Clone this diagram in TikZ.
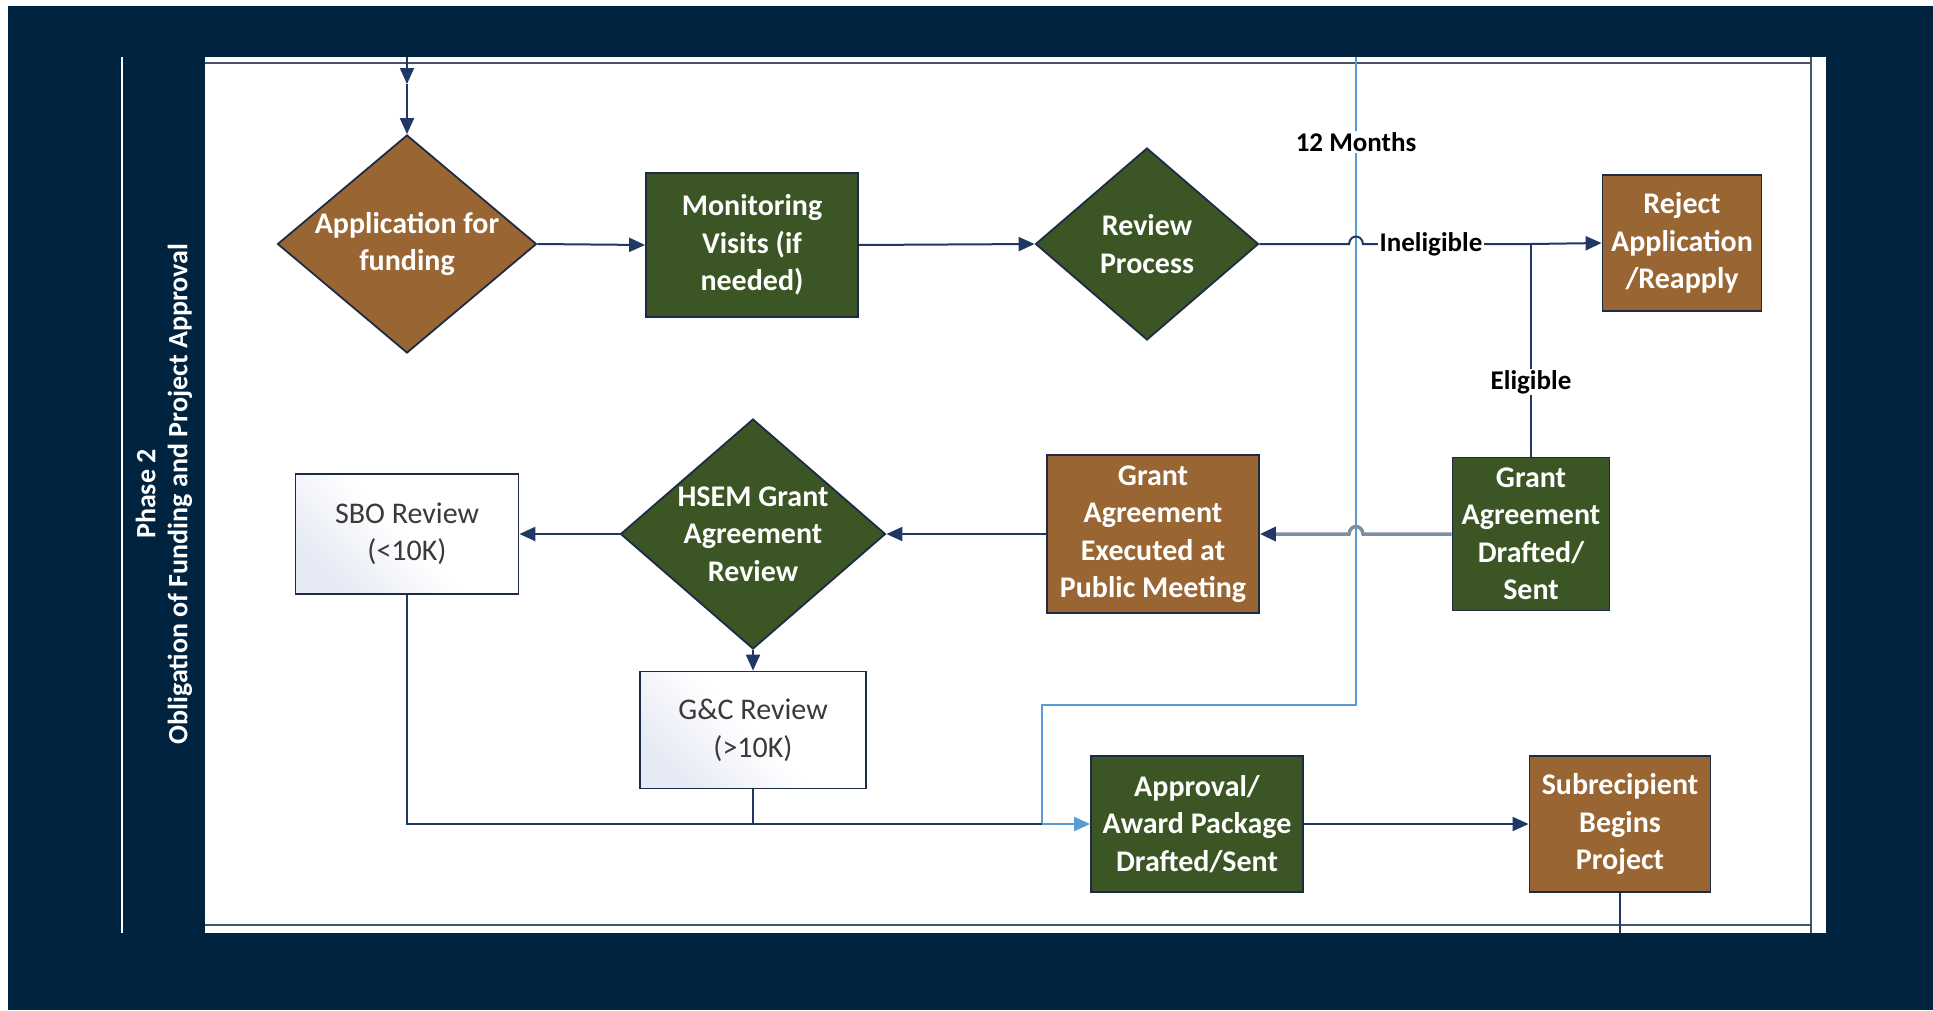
\documentclass[tikz,border=0pt]{standalone}
\usepackage{fontspec}
\setmainfont{Carlito}
\usetikzlibrary{shapes.geometric,arrows.meta,calc}
\definecolor{navybg}{HTML}{002340}
\definecolor{brownfill}{HTML}{996633}
\definecolor{greenfill}{HTML}{3B5524}
\definecolor{boxedge}{HTML}{1E2B45}
\definecolor{conn}{HTML}{1F3864}
\definecolor{lightblue}{HTML}{5B9BD5}
\definecolor{greyconn}{HTML}{7F8FA2}
\definecolor{laneline}{HTML}{44546A}
\definecolor{revtext}{HTML}{3A3A3A}
\definecolor{revshade}{HTML}{E6EAF4}
\begin{document}
\begin{tikzpicture}[x=1pt,y=-1pt,
  boxtext/.style={font=\fontsize{30}{37.5}\selectfont\bfseries, text=white, align=center},
  brownbox/.style={rectangle, draw=boxedge, line width=1.8pt, fill=brownfill, boxtext, inner sep=0pt},
  greenbox/.style={rectangle, draw=boxedge, line width=1.8pt, fill=greenfill, boxtext, inner sep=0pt},
  browndia/.style={diamond, draw=boxedge, line width=1.8pt, fill=brownfill, boxtext, inner sep=-40pt},
  greendia/.style={diamond, draw=boxedge, line width=1.8pt, fill=greenfill, boxtext, inner sep=-40pt},
  revbox/.style={rectangle, draw=boxedge, line width=1.8pt, top color=revshade, bottom color=white, middle color=white, shading angle=135, font=\fontsize{30}{37.5}\selectfont, text=revtext, align=center, inner sep=0pt},
  tip/.style={-{Triangle[length=16pt,width=14pt]}},
  flow/.style={draw=conn, line width=2pt, tip},
  plain/.style={draw=conn, line width=2pt},
  lbl/.style={font=\fontsize{27}{30}\selectfont\bfseries, text=black, fill=white, inner sep=1.5pt},
]
% background and page
\useasboundingbox (0,0) rectangle (1933,1010);
\fill[white] (0,0) rectangle (1933,1010);
\fill[navybg] (8,6) rectangle (1933,1010);
\fill[white] (205,57) rectangle (1826,933);
\draw[white, line width=2.5pt] (122,57) -- (122,933);
\draw[laneline, line width=2.5pt] (205,63) -- (1811,63);
\draw[laneline, line width=2.5pt] (205,925) -- (1811,925);
\draw[laneline, line width=2.5pt] (1811,57) -- (1811,933);
\node[rotate=90, font=\fontsize{28}{32}\selectfont\bfseries, text=white, align=center] (lane) at (164,494) {Phase 2\\Obligation of Funding and Project Approval};

% nodes
\node[browndia, minimum width=259pt, minimum height=218pt] (app) at (407,244) {Application for\\funding};
\node[greenbox, minimum width=212pt, minimum height=144pt] (mon) at (752,245) {Monitoring\\Visits (if\\needed)};
\node[greendia, minimum width=223pt, minimum height=192pt] (rev) at (1147,244) {Review\\Process};
\node[brownbox, minimum width=159pt, minimum height=136pt] (rej) at (1682,243) {Reject\\Application\\/Reapply};
\node[greenbox, minimum width=157pt, minimum height=153pt] (gad) at (1531,534) {Grant\\Agreement\\Drafted/\\Sent};
\node[brownbox, minimum width=212pt, minimum height=158pt] (gae) at (1153,534) {Grant\\Agreement\\Executed at\\Public Meeting};
\node[greendia, minimum width=265pt, minimum height=230pt] (hsem) at (753,534) {HSEM Grant\\Agreement\\Review};
\node[revbox, minimum width=223pt, minimum height=120pt] (sbo) at (407,534) {SBO Review\\(<10K)};
\node[revbox, minimum width=226pt, minimum height=117pt] (gc) at (753,730) {G\&C Review\\(>10K)};
\node[greenbox, minimum width=212pt, minimum height=136pt] (appr) at (1197,824) {Approval/\\Award Package\\Drafted/Sent};
\node[brownbox, minimum width=181pt, minimum height=136pt] (sub) at (1620,824) {Subrecipient\\Begins\\Project};

% coordinates
\coordinate (topin) at (407,57);
\coordinate (topmid) at (407,84);
\coordinate (bluetop) at (1356,57);
\coordinate (bluecorner) at (1356,705);
\coordinate (blueleft) at (1042,705);
\coordinate (bluel) at (1042,824);
\coordinate (jct) at (gad.north |- rev.east);
\coordinate (subbot) at (1620,933);

% light blue 12-month loop
\draw[lightblue, line width=2pt, tip] (bluetop) -- (bluecorner) -- (blueleft) -- (bluel) -- (appr.west);

% connectors
\draw[flow] (topin) -- (topmid);
\draw[flow] (topmid) -- (app.north);
\draw[flow] (app.east) -- (mon.west);
\draw[flow] (mon.east) -- (rev.west);
\draw[plain] (rev.east) -- (1349,244) .. controls (1350,234) and (1362,234) .. (1363,244) -- (jct);
\draw[flow] (jct) -- (rej.west);
\draw[plain] (gad.north) -- (jct);
\draw[greyconn, line width=3.5pt, -{Triangle[length=16pt,width=14pt,color=conn]}] (gad.west) -- (1363,534) .. controls (1362,524) and (1350,524) .. (1349,534) -- (gae.east);
\draw[flow] (gae.west) -- (hsem.east);
\draw[flow] (hsem.west) -- (sbo.east);
\draw[flow] (hsem.south) -- (gc.north);
\draw[plain] (sbo.south) |- (bluel);
\draw[plain] (gc.south) -- (gc.south |- bluel);
\draw[flow] (appr.east) -- (sub.west);
\draw[plain] (sub.south) -- (subbot);

% labels
\node[lbl] (months) at (1356,142) {12 Months};
\node[lbl] (inel) at (1431,244) {Ineligible};
\node[lbl] (elig) at (1531,382) {Eligible};
\end{tikzpicture}
\end{document}
